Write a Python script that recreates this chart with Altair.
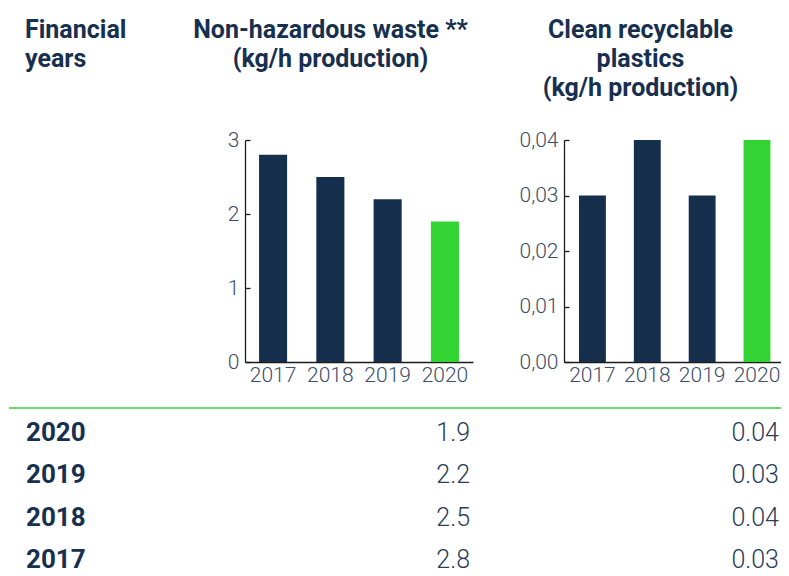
import altair as alt
import pandas as pd

# ---- data ----
years = [2017, 2018, 2019, 2020]
waste = [2.8, 2.5, 2.2, 1.9]
plastics = [0.03, 0.04, 0.03, 0.04]
waste_ticks = [0, 1, 2, 3]
plastics_ticks = [0.0, 0.01, 0.02, 0.03, 0.04]
bar_colors = ["#162f4d", "#162f4d", "#162f4d", "#33d333"]
header_years = ["Financial", "years"]
header_waste = ["Non-hazardous waste **", "(kg/h production)"]
header_plastics = ["Clean recyclable", "plastics", "(kg/h production)"]

df = pd.DataFrame({"year": years, "waste": waste, "plastics": plastics})

NAVY_TEXT = "#17304f"
LABEL = "#3d4e68"
VALUE = "#2a3c58"
GREEN = "#36d336"

W, H = 228, 222
X2_START, X2_END = 319, 536

color = alt.Color("year:O", scale=alt.Scale(domain=years, range=bar_colors), legend=None)

ax = dict(labelFont="Roboto", labelFontSize=21, labelFontWeight=300, labelColor=LABEL,
          domainColor="#1b1b1b", tickColor="#1b1b1b", domainWidth=1.3, tickWidth=1.3,
          grid=False, title=None)

bars1 = alt.Chart(df).mark_bar().encode(
    x=alt.X("year:O", scale=alt.Scale(paddingInner=0.51, paddingOuter=0.245),
            axis=alt.Axis(orient="bottom", ticks=False, labelPadding=2, labelAngle=0, **ax)),
    y=alt.Y("waste:Q", scale=alt.Scale(domain=[0, 3]),
            axis=alt.Axis(orient="right", offset=-W, values=waste_ticks, tickSize=5,
                          labelPadding=-11, labelAlign="right", **ax)),
    color=color,
)

bars2 = alt.Chart(df).mark_bar().encode(
    x=alt.X("year:O", scale=alt.Scale(range=[X2_START, X2_END], paddingInner=0.51,
                                      paddingOuter=0.233, align=0.587),
            axis=alt.Axis(orient="bottom", ticks=False, labelPadding=2, labelAngle=0, **ax)),
    y=alt.Y("plastics:Q", scale=alt.Scale(domain=[0, 0.04]),
            axis=alt.Axis(orient="right", offset=X2_START - W, values=plastics_ticks, tickSize=5,
                          labelPadding=-11, labelAlign="right",
                          labelExpr="replace(format(datum.value, '.2f'), '.', ',')", **ax)),
    color=color,
)

one = alt.Data(values=[{}])
hdr = dict(font="Roboto", fontSize=25, fontWeight="bold", color=NAVY_TEXT, lineHeight=29,
           baseline="alphabetic")

h_years = alt.Chart(one).mark_text(text=header_years, align="left", **hdr).encode(
    x=alt.value(-220), y=alt.value(-102))
h_waste = alt.Chart(one).mark_text(text=header_waste, align="center", **hdr).encode(
    x=alt.value(85.5), y=alt.value(-102))
h_plast = alt.Chart(one).mark_text(text=header_plastics, align="center", **hdr).encode(
    x=alt.value(395.5), y=alt.value(-102))

rule = alt.Chart(one).mark_rule(color=GREEN, strokeWidth=1.5).encode(
    x=alt.value(-236), x2=alt.value(X2_END), y=alt.value(268))

row_y = alt.Y("year:O", sort="descending",
              scale=alt.Scale(type="point", range=[301, 428], padding=0), axis=None)

t_years = alt.Chart(df).mark_text(align="left", baseline="alphabetic", font="Roboto",
                                  fontSize=26, fontWeight="bold", color=NAVY_TEXT).encode(
    x=alt.value(-219), y=row_y, text="year:N")
t_waste = alt.Chart(df).mark_text(align="right", baseline="alphabetic", font="Roboto",
                                  fontSize=25, fontWeight=300, color=VALUE).encode(
    x=alt.value(225), y=row_y, text=alt.Text("waste:Q", format=".1f"))
t_plast = alt.Chart(df).mark_text(align="right", baseline="alphabetic", font="Roboto",
                                  fontSize=25, fontWeight=300, color=VALUE).encode(
    x=alt.value(534), y=row_y, text=alt.Text("plastics:Q", format=".2f"))

chart = alt.layer(
    bars1, bars2, h_years, h_waste, h_plast, rule, t_years, t_waste, t_plast
).resolve_scale(
    x="independent", y="independent", color="shared"
).resolve_axis(
    x="independent", y="independent"
).properties(
    width=W, height=H,
    padding={"left": 237, "top": 132, "right": 308, "bottom": 214},
    autosize=alt.AutoSizeParams(type="none"),
    background="white",
).configure_view(stroke=None)

chart.save("out.html", embed_options={"renderer": "svg", "actions": False})
